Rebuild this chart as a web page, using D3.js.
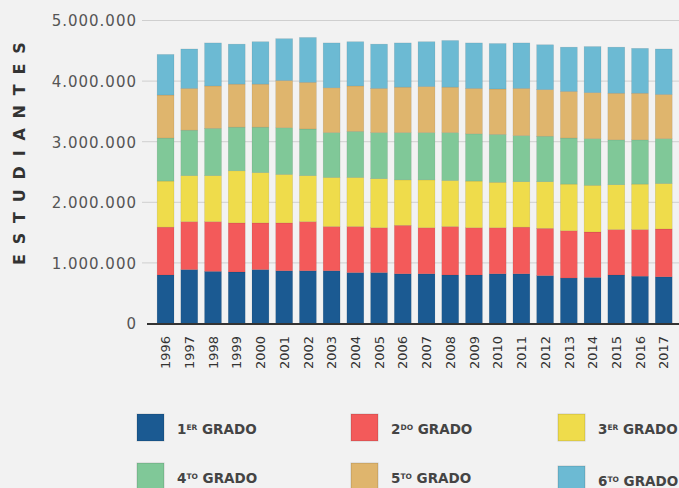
<!DOCTYPE html>
<html>
<head>
<meta charset="utf-8">
<script src="https://cdn.jsdelivr.net/npm/d3@7"></script>
<style>
  body { margin: 0; background: #f2f2f2; }
  svg { display: block; }
</style>
</head>
<body>
<div id="chart-area"></div>
<script>
// datos (millones de estudiantes por grado)
var years = ["1996","1997","1998","1999","2000","2001","2002","2003","2004","2005","2006",
             "2007","2008","2009","2010","2011","2012","2013","2014","2015","2016","2017"];
var grado1 = [0.80,0.89,0.86,0.85,0.89,0.87,0.87,0.87,0.84,0.84,0.82,0.82,0.80,0.80,0.82,0.82,0.79,0.75,0.76,0.80,0.78,0.77];
var grado2 = [0.79,0.79,0.82,0.81,0.77,0.79,0.81,0.73,0.76,0.74,0.80,0.76,0.80,0.78,0.76,0.77,0.78,0.78,0.75,0.75,0.77,0.79];
var grado3 = [0.76,0.76,0.76,0.86,0.83,0.80,0.76,0.81,0.81,0.81,0.75,0.79,0.76,0.77,0.75,0.75,0.77,0.77,0.77,0.74,0.75,0.75];
var grado4 = [0.71,0.75,0.78,0.72,0.75,0.77,0.77,0.74,0.76,0.76,0.78,0.78,0.79,0.78,0.79,0.76,0.75,0.76,0.77,0.74,0.73,0.74];
var grado5 = [0.71,0.69,0.70,0.71,0.71,0.78,0.77,0.74,0.75,0.73,0.75,0.76,0.75,0.75,0.75,0.78,0.77,0.77,0.76,0.77,0.77,0.73];
var grado6 = [0.67,0.65,0.71,0.66,0.70,0.69,0.74,0.74,0.73,0.73,0.73,0.74,0.77,0.75,0.75,0.75,0.74,0.73,0.76,0.76,0.74,0.75];
var gradeNum = ["1","2","3","4","5","6"];
var gradeSup = ["ER","DO","ER","TO","TO","TO"];
var colors = ["#1b5a92","#f35a5a","#efdc4b","#80c898","#dfb56d","#6cbad3"];
var yTicks = [0, 1000000, 2000000, 3000000, 4000000, 5000000];

var width = 679, height = 488;
var series = [grado1, grado2, grado3, grado4, grado5, grado6];
var keys = ["g1","g2","g3","g4","g5","g6"];
var table = years.map(function(yr, i) {
  var row = { year: yr };
  keys.forEach(function(k, j) { row[k] = series[j][i] * 1000000; });
  return row;
});

var svg = d3.select("#chart-area").append("svg").attr("width", width).attr("height", height);
svg.append("rect").attr("width", width).attr("height", height).attr("fill", "#f2f2f2");

var x = d3.scaleBand().domain(years).range([150, 679.3]).paddingInner(0.288).paddingOuter(0.3);
var y = d3.scaleLinear().domain([0, 5000000]).range([323.5, 20.5]);

// grid + y labels
var leftAxis = d3.axisLeft(y).tickValues(yTicks).tickSize(0).tickPadding(0)
  .tickFormat(function(d) { return d3.format(",")(d).replace(/,/g, "."); });
var gy = svg.append("g").attr("transform", "translate(137,0)").call(leftAxis);
gy.select(".domain").remove();
gy.selectAll("text").attr("font-family", "DejaVu Sans").attr("font-size", "15px")
  .attr("letter-spacing", "1px").attr("fill", "#555").attr("dy", "0.36em");

svg.append("g").selectAll("line").data(yTicks.filter(function(d) { return d > 0; })).enter().append("line")
  .attr("x1", 142).attr("x2", width).attr("y1", function(d) { return y(d); }).attr("y2", function(d) { return y(d); })
  .attr("stroke", "#cfcfcf").attr("stroke-width", 1);

// bars
var stack = d3.stack().keys(keys)(table);
svg.append("g").selectAll("g").data(stack).enter().append("g")
  .attr("fill", function(d, i) { return colors[i]; })
  .selectAll("rect").data(function(d) { return d; }).enter().append("rect")
  .attr("x", function(d) { return x(d.data.year); })
  .attr("y", function(d) { return y(d[1]); })
  .attr("width", x.bandwidth())
  .attr("height", function(d) { return y(d[0]) - y(d[1]); })
  .attr("stroke", "rgba(0,0,0,0.12)").attr("stroke-width", 0.6);

// x axis
var bottomAxis = d3.axisBottom(x).tickSize(0).tickPadding(0);
var gx = svg.append("g").attr("transform", "translate(0,324)").call(bottomAxis);
gx.select(".domain").remove();
svg.append("line").attr("x1", 147).attr("x2", width).attr("y1", 324).attr("y2", 324)
  .attr("stroke", "#333").attr("stroke-width", 2);
gx.selectAll("text").attr("font-family", "DejaVu Sans").attr("font-size", "13px").attr("fill", "#333")
  .attr("text-anchor", "end").attr("transform", "rotate(-90)").attr("x", -12).attr("y", 0).attr("dy", "0.36em");

// y title
svg.append("text").attr("transform", "translate(25,265) rotate(-90)")
  .attr("font-family", "DejaVu Sans").attr("font-weight", "bold").attr("font-size", "16px")
  .attr("letter-spacing", "9.8px").attr("fill", "#333").text("ESTUDIANTES");

// legend
var legX = [137, 351, 558], legY = [414, 463];
var leg = svg.append("g").selectAll("g").data(gradeNum).enter().append("g")
  .attr("transform", function(d, i) { return "translate(" + legX[i % 3] + "," + (legY[Math.floor(i / 3)] + (i === 5 ? 3 : 0)) + ")"; });
leg.append("rect").attr("width", 27).attr("height", 27)
  .attr("fill", function(d, i) { return colors[i]; }).attr("stroke", "rgba(0,0,0,0.15)");
var lt = leg.append("text").attr("x", 40).attr("y", 20)
  .attr("font-family", "DejaVu Sans").attr("font-weight", "bold").attr("font-size", "13.5px").attr("fill", "#444");
lt.append("tspan").text(function(d) { return d; });
lt.append("tspan").attr("font-size", "7.5px").attr("dy", -4.5).text(function(d, i) { return gradeSup[i]; });
lt.append("tspan").attr("dy", 4.5).text(" GRADO");
</script>
</body>
</html>
